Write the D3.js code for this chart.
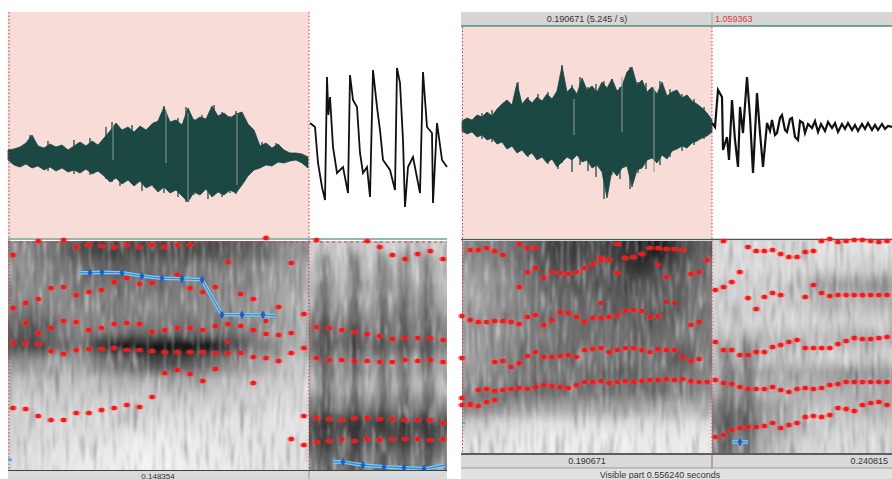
<!DOCTYPE html>
<html>
<head>
<meta charset="utf-8">
<script src="https://cdn.jsdelivr.net/npm/d3@7"></script>
<style>
  body { margin: 0; background: #fff; }
  svg { display: block; }
  text { font-family: "Liberation Sans", Arial, sans-serif; }
</style>
</head>
<body>
<div id="chart"></div>
<script>
// ---------- left panel data ----------
// waveform envelope of the selected vowel, one sample every envStepL ms
const envStepL = 3;
const waveUpL = [5,6,8,12,20,9,7,11,8,10,5,9,13,9,14,10,17,24,32,25,28,23,29,25,31,34,48,33,35,30,47,34,38,36,49,39,42,37,41,43,31,25,9,12,7,11,5,2,2,1,-2];
const waveLoL = [-5,-10,-12,-9,-13,-11,-15,-12,-16,-13,-17,-15,-18,-14,-19,-16,-21,-27,-23,-29,-25,-31,-26,-33,-30,-37,-32,-38,-35,-41,-47,-37,-40,-34,-42,-37,-40,-35,-38,-30,-21,-15,-13,-10,-11,-7,-8,-6,-5,-8,-13];
// single spikes (ms, top, bottom) and the paler ones
const spikeTL = [11,20,33,41,49,52,56,62,67,73,78,80,85,89,93,97,100,103,107,111,114,118,122,127,134];
const spikeUL = [20,14,15,17,28,33,26,30,27,33,49,35,37,48,36,40,38,50,43,39,44,34,22,13,12];
const spikeDL = [-12,-16,-19,-20,-24,-27,-31,-29,-36,-33,-38,-36,-42,-47,-40,-36,-44,-40,-42,-38,-39,-27,-16,-11,-8];
const greyTL = [52.5,79,90,114.5];
const greyUL = [30,45,42,41];
const greyDL = [-5,-8,-46,-30];
// waveform after the selection (ms, amplitude)
const burstTL = [151,153.5,155,157,158.5,159.5,160.2,161,162.5,164.5,167.5,170,171,172.5,174.5,176,177.5,179.5,181,182.5,184.5,186,187.5,191,193.5,194.5,196,197.5,198.5,200,202.5,206,207.5,209.5,212,212.5,214.5,217,219.5];
const burstAL = [32,28,-8,-32,-45,78,40,58,8,-18,-12,-38,80,55,48,2,-18,-12,-42,85,48,25,-5,-15,-35,87,72,15,-52,-12,-2,-38,83,28,22,-48,32,-5,-12];

// spectrogram darkness (rows = bands from top, cols = time)
const specAL = [
  [.55,.55,.65,.75,.8,.8,.75,.8,.75,.75,.75,.7,.7,.6,.5],
  [.5,.55,.6,.65,.65,.7,.65,.65,.65,.6,.6,.55,.55,.5,.45],
  [.5,.55,.55,.6,.6,.65,.6,.6,.6,.55,.55,.55,.5,.45,.45],
  [.6,.6,.55,.55,.55,.6,.55,.55,.6,.55,.55,.5,.5,.45,.4],
  [.7,.75,.65,.55,.55,.6,.6,.6,.65,.6,.6,.6,.55,.5,.4],
  [.75,.8,.65,.6,.85,1,1,1,1,1,.95,.75,.6,.5,.4],
  [.5,.5,.45,.45,.55,.65,.7,.75,.75,.7,.6,.5,.45,.4,.3],
  [.35,.35,.35,.35,.35,.4,.4,.4,.4,.4,.35,.35,.35,.3,.3],
  [.3,.3,.3,.3,.3,.3,.3,.3,.3,.3,.3,.3,.3,.25,.25],
  [.3,.25,.25,.25,.25,.25,.25,.2,.2,.2,.2,.2,.2,.2,.2],
  [.3,.25,.2,.2,.2,.2,.15,.15,.15,.15,.2,.2,.2,.2,.2],
  [.25,.2,.2,.15,.15,.15,.1,.1,.1,.15,.15,.15,.2,.2,.2]
];
const specBL = [
  [.3,.3,.3,.3,.3,.35,.3],
  [.35,.35,.35,.35,.35,.35,.35],
  [.4,.4,.4,.4,.4,.4,.4],
  [.45,.45,.45,.45,.45,.45,.45],
  [.6,.6,.6,.55,.55,.55,.55],
  [.65,.65,.65,.6,.6,.6,.6],
  [.5,.5,.5,.45,.45,.45,.45],
  [.4,.4,.4,.35,.35,.35,.35],
  [.55,.55,.5,.5,.5,.5,.5],
  [.75,.75,.75,.75,.75,.75,.75],
  [.75,.7,.75,.7,.75,.7,.7],
  [.6,.6,.6,.55,.55,.55,.55]
];
const pulsesL = [158.5,173.5,187.5,198,209.5];

// formant tracks, one value (Hz) per analysis frame
const framesL = 35;
const fL1 = [1488,1464,1296,1200,1200,1368,1368,1440,1488,1560,1512,1752,null,null,null,null,null,null,null,null,null,null,744,600,672,696,744,696,744,720,744,744,744,720,744];
const fL2 = [null,null,null,null,null,null,null,null,null,null,null,null,2328,2400,2304,2136,2424,null,null,2088,null,null,null,1296,1248,1224,1200,1248,1248,1224,1224,1200,1200,1200,1128];
const fL3 = [3048,3048,3024,2856,2784,2880,2904,2904,2928,2880,2880,2856,2832,2832,2832,2832,2808,2808,2808,2712,2688,2616,2808,2928,2688,2640,2640,2616,2616,2592,2592,2640,2616,2640,2592];
const fL4 = [3888,3528,3288,3408,3576,3552,3360,3408,3504,3528,3504,3312,3360,3408,3408,3360,3456,3504,3456,3360,3264,3240,3288,3744,3432,3408,3360,3312,3264,3216,3144,3168,3168,3168,3120];
const fL5 = [5160,4008,4104,4368,4392,4200,4272,4320,4512,4608,4464,4488,null,4680,4368,4272,4392,4992,4224,4104,null,3912,4968,null,null,null,null,null,null,null,null,null,null,null,null];
const fL6 = [null,null,5496,null,5520,5352,5400,5376,5352,5400,5352,5400,5352,5400,5400,null,null,null,null,null,5568,null,null,null,5520,null,null,null,5496,5352,5160,5064,5184,5256,5064];
const extraFrameL = [17,20];
const extraFreqL = [3072,3576];

// pitch (Hz) against time (ms)
const pitchTL = [36,41,47,57,67,77,87,97,107,117,127.5,133.5];
const pitchFL = [441,441,442,441,435,431,430,428,363,363,363,361];
const pitchTL2 = [162.5,167.5,177.5,188,198,208,218.5];
const pitchFL2 = [90,90,84,81,79,77,84];
const pitchTL0 = [0,2];
const pitchFL0 = [94,94];

// ---------- right panel data ----------
const envStepR = 2.5;
const waveUpR = [6,9,7,12,10,15,11,18,23,27,22,44,23,29,24,30,26,33,28,36,61,35,40,33,49,37,41,35,45,39,48,36,41,55,60,42,47,35,40,33,45,31,35,37,29,32,26,23,19,14,7];
const waveLoR = [-4,-7,-5,-10,-8,-13,-11,-17,-15,-22,-19,-26,-23,-29,-26,-33,-30,-36,-32,-40,-35,-30,-33,-28,-35,-33,-41,-38,-45,-71,-43,-49,-41,-39,-60,-43,-41,-33,-31,-36,-28,-32,-24,-22,-19,-21,-16,-14,-11,-9,-5];
const spikeTR = [10,15,22,28,33,38,43,48,50,55,59,63,67,71,75,79,84,88,92,99,104,110,116,121];
const spikeUR = [14,17,26,45,30,33,35,38,62,42,50,40,43,46,48,40,60,45,44,46,38,33,28,20];
const spikeDR = [-12,-15,-20,-25,-30,-32,-37,-42,-36,-45,-38,-44,-50,-72,-48,-52,-62,-46,-42,-38,-30,-24,-18,-12];
const greyTR = [56,80,96];
const greyUR = [28,50,40];
const greyDR = [-8,-5,-45];
const tailTR = [125,126.5,128,130,130.5,132.5,133.5,135,136.5,138,139,140.5,142.5,144,145.5,147.5,149,150.5,152.5,154,155,156.5,157.5,159,160,161.5,162.5,164,165,166.5,168,169,170.5,171.5,173,175,176.5,178,179.5,181.5,183,185,186.5,188,190,191.5,193,195,196.5,198,200,201.5,203,205,206.5,208,210,211.5,213,215];
const tailAR = [4,0,37,30,-23,-10,-33,27,-13,-40,20,-6,50,10,-46,34,-6,-40,4,-4,7,-8,-6,9,12,-3,-5,8,9,-10,-13,6,4,-6,3,-1,6,-5,3,-4,5,-1,4,-5,3,-2,4,-3,2,-4,3,-2,4,-3,2,-3,3,-2,1,0];

const specAR = [
  [.55,.6,.65,.7,.8,.8,.75,.85,.9,.9,.8,.7],
  [.5,.55,.6,.7,.75,.75,.7,.8,.85,.8,.75,.65],
  [.45,.5,.55,.65,.7,.7,.7,.75,.75,.7,.7,.6],
  [.45,.5,.55,.6,.65,.7,.65,.7,.7,.7,.7,.6],
  [.5,.55,.55,.6,.65,.65,.65,.65,.7,.7,.65,.6],
  [.5,.5,.55,.6,.6,.65,.65,.65,.65,.65,.6,.6],
  [.45,.5,.6,.65,.65,.65,.6,.65,.65,.65,.75,.6],
  [.5,.55,.6,.6,.6,.6,.65,.7,.65,.6,.65,.55],
  [.6,.65,.65,.65,.65,.65,.65,.65,.65,.65,.6,.55],
  [.55,.55,.5,.5,.45,.45,.45,.45,.45,.4,.4,.4],
  [.3,.25,.2,.2,.2,.2,.2,.2,.2,.2,.2,.2],
  [.2,.2,.15,.15,.15,.15,.15,.15,.15,.15,.15,.15]
];
const specBR = [
  [.25,.25,.25,.25,.25,.2,.2,.2,.2],
  [.25,.25,.25,.25,.25,.25,.25,.3,.3],
  [.3,.3,.3,.3,.35,.45,.5,.5,.5],
  [.3,.3,.3,.3,.35,.4,.4,.4,.4],
  [.3,.3,.25,.25,.25,.3,.3,.3,.3],
  [.35,.4,.4,.4,.35,.35,.4,.4,.4],
  [.35,.35,.35,.35,.3,.3,.3,.3,.3],
  [.4,.45,.45,.45,.45,.45,.5,.5,.5],
  [.4,.45,.4,.4,.4,.4,.4,.45,.45],
  [.55,.6,.5,.45,.4,.35,.35,.4,.4],
  [.6,.6,.5,.45,.4,.3,.3,.3,.3],
  [.55,.55,.4,.35,.3,.25,.25,.25,.25]
];
const pulsesR = [132.5,143];

const framesR = 53;
const fR1 = [1152,1152,1128,1224,1272,null,null,null,null,null,null,null,null,null,null,null,null,null,null,null,null,null,null,null,null,null,null,null,null,null,null,384,432,552,600,624,624,648,720,600,672,720,864,888,864,912,1080,1056,1008,1152,1200,1224,1152];
const fR2 = [1320,1176,1512,1536,1488,1512,1536,1560,1536,1584,1632,1608,1584,1560,1632,1704,1704,1728,1680,1704,1728,1704,1728,1752,1752,1776,1752,1776,1728,1704,1704,1752,1680,1656,1584,1536,1536,1536,1584,1512,1464,1536,1560,1536,1560,1632,1656,1704,1704,1704,1704,1704,1704];
const fR3 = [2280,null,null,null,2184,2208,2064,2160,2328,2424,2304,2304,2328,2352,2304,2472,2496,2520,2424,2472,2520,2520,2472,2424,2496,2472,2472,2304,2208,2256,null,2664,2472,2472,2352,2352,2424,2424,2544,2592,2664,2712,2520,2520,2520,2520,2616,2688,2760,2736,2736,2760,2784];
const fR4 = [3288,3192,3144,3144,3168,3168,3144,3096,3264,3312,3072,3192,3384,3360,3264,3144,3240,3240,3264,3312,3408,3432,3408,3264,3288,null,null,null,3072,3144,null,3912,3984,4104,4344,3720,3456,3744,3840,3792,null,null,3744,4032,3840,3768,3792,3792,3792,3792,3792,3792,3792];
const fR5 = [null,null,null,null,null,null,null,3984,4344,4440,4200,4344,4320,4296,4344,4440,4536,4632,null,4320,null,null,null,null,null,4224,null,null,4296,4344,4632,null,null,null,null,null,null,null,null,null,null,null,null,null,null,null,null,null,null,null,null,null,null];
const fR6 = [null,4872,4872,4920,4848,4752,null,5016,4920,4920,null,null,null,null,null,null,null,4680,4632,5016,4680,4704,4776,4920,4920,4896,4896,4872,null,null,null,null,5088,null,null,4944,4848,4848,4872,4776,4704,4704,4824,4848,5088,5136,5064,5088,5112,5112,5088,5064,5088];
const extraFrameR = [17,24,25,26];
const extraFreqR = [3600,4512,3624,3600];

const pitchTR = [135,139,143];
const pitchFR = [97,97,97];
const pitchTR0 = [0,1.5];
const pitchFR0 = [135,135];

// ---------- chart ----------
const width = 892, height = 479;
const svg = d3.select("#chart").append("svg")
  .attr("width", width)
  .attr("height", height);
const defs = svg.append("defs");

function whole(f) {
  return f.attr("filterUnits", "userSpaceOnUse")
    .attr("x", 0).attr("y", 0).attr("width", width).attr("height", height);
}
whole(defs.append("filter").attr("id", "blur"))
  .append("feGaussianBlur").attr("stdDeviation", "9 6");
whole(defs.append("filter").attr("id", "blurPulse"))
  .append("feGaussianBlur").attr("stdDeviation", "4 6");
whole(defs.append("filter").attr("id", "dotGlow"))
  .append("feGaussianBlur").attr("stdDeviation", "0.5");

// streak textures of the spectrogram
function noise(id, freq, seed, matrix) {
  let f = whole(defs.append("filter").attr("id", id));
  f.append("feTurbulence").attr("type", "fractalNoise")
    .attr("baseFrequency", freq).attr("numOctaves", 2).attr("seed", seed);
  f.append("feColorMatrix").attr("type", "matrix").attr("values", matrix);
  f.append("feGaussianBlur").attr("stdDeviation", "0.8 1.5");
  f.append("feComposite").attr("in2", "SourceGraphic").attr("operator", "in");
}
noise("whiteStreak", "0.36 0.035", 4, "0 0 0 0 1  0 0 0 0 1  0 0 0 0 1  3.4 0 0 0 -1.75");
noise("darkStreak", "0.32 0.03", 9, "0 0 0 0 0  0 0 0 0 0  0 0 0 0 0  -3.2 0 0 0 1.5");

let clipN = 0;
function clipRect(x, y, w, h) {
  let id = "clip" + (clipN++);
  defs.append("clipPath").attr("id", id)
    .append("rect").attr("x", x).attr("y", y).attr("width", w).attr("height", h);
  return `url(#${id})`;
}

// one blurred block of spectrogram
function drawSpec(g, grid, t0, t1, fMax, xScale, yScale) {
  let cols = d3.scaleBand().domain(d3.range(grid[0].length)).range([xScale(t0), xScale(t1)]);
  let rows = d3.scaleBand().domain(d3.range(grid.length)).range([yScale(fMax), yScale(0)]);
  let x0 = xScale(t0), x1 = xScale(t1), y0 = yScale(fMax), y1 = yScale(0);
  let cg = g.append("g").attr("clip-path", clipRect(x0, y0, x1 - x0, y1 - y0));
  let bg = cg.append("g").attr("filter", "url(#blur)");
  let pad = 16;
  grid.forEach((row, r) => {
    row.forEach((v, c) => {
      let x = cols(c), w = cols.bandwidth(), y = rows(r), h = rows.bandwidth();
      if (c === 0) { x -= pad; w += pad; }
      if (c === row.length - 1) { w += pad; }
      if (r === 0) { y -= pad; h += pad; }
      if (r === grid.length - 1) { h += pad; }
      bg.append("rect")
        .attr("x", x).attr("y", y).attr("width", w + 0.5).attr("height", h + 0.5)
        .attr("fill", d3.interpolateGreys(v));
    });
  });
  return cg;
}

function drawPulses(cg, pulses, fTop, xScale, yScale, op) {
  cg.append("g").attr("filter", "url(#blurPulse)")
    .selectAll("rect").data(pulses).enter().append("rect")
    .attr("x", d => xScale(d) - 4)
    .attr("y", yScale(fTop))
    .attr("width", 8)
    .attr("height", yScale(0) - yScale(fTop) + 10)
    .attr("fill", "#000")
    .attr("opacity", op);
}

function drawTexture(g, x0, y0, x1, y1) {
  g.append("rect").attr("x", x0).attr("y", y0).attr("width", x1 - x0).attr("height", y1 - y0)
    .attr("fill", "#fff").attr("filter", "url(#whiteStreak)").attr("opacity", 0.5);
  g.append("rect").attr("x", x0).attr("y", y0).attr("width", x1 - x0).attr("height", y1 - y0)
    .attr("fill", "#000").attr("filter", "url(#darkStreak)").attr("opacity", 0.28);
}

function drawTracks(g, tracks, xFrame, yFreq) {
  tracks.forEach(track => {
    let pts = track.map((f, i) => [i, f]).filter(d => d[1] !== null);
    let tg = g.append("g");
    tg.selectAll(".halo").data(pts).enter().append("ellipse")
      .attr("cx", d => xFrame(d[0])).attr("cy", d => yFreq(d[1]))
      .attr("rx", 4.2).attr("ry", 2.6)
      .attr("fill", "#ff3b3b").attr("opacity", 0.45).attr("filter", "url(#dotGlow)");
    tg.selectAll(".core").data(pts).enter().append("ellipse")
      .attr("cx", d => xFrame(d[0])).attr("cy", d => yFreq(d[1]))
      .attr("rx", 2.6).attr("ry", 2.2)
      .attr("fill", "#ff1414");
  });
}

function drawPitch(g, ts, fs, xScale, yScale, markers) {
  let pts = ts.map((t, i) => [t, fs[i]]);
  let line = d3.line().x(d => xScale(d[0])).y(d => yScale(d[1]));
  g.append("path").attr("d", line(pts)).attr("fill", "none")
    .attr("stroke", "#7ccbf2").attr("stroke-width", 3.6).attr("stroke-linejoin", "round");
  g.append("path").attr("d", line(pts)).attr("fill", "none")
    .attr("stroke", "#2f86d6").attr("stroke-width", 1.1);
  if (markers) {
    g.append("g").selectAll("path").data(pts.slice(1, -1)).enter().append("path")
      .attr("d", d3.symbol().type(d3.symbolDiamond).size(22))
      .attr("transform", d => `translate(${xScale(d[0])},${yScale(d[1])})`)
      .attr("fill", "#1d5fc4");
  }
}

function envelope(g, up, lo, step, xScale, yAmp, color) {
  let pts = up.map((u, i) => [i * step, u, lo[i]]);
  let area = d3.area().x(d => xScale(d[0])).y0(d => yAmp(d[2])).y1(d => yAmp(d[1]));
  g.append("path").attr("d", area(pts)).attr("fill", color)
    .attr("stroke", color).attr("stroke-width", 0.8);
}

function spikes(g, ts, ups, dns, xScale, yAmp, color, w) {
  g.append("g").selectAll("line").data(ts).enter().append("line")
    .attr("x1", d => xScale(d)).attr("x2", d => xScale(d))
    .attr("y1", (d, i) => yAmp(ups[i])).attr("y2", (d, i) => yAmp(dns[i]))
    .attr("stroke", color).attr("stroke-width", w);
}

function dotted(g, x, y0, y1) {
  g.append("line").attr("x1", x).attr("x2", x).attr("y1", y0).attr("y2", y1)
    .attr("stroke", "#d9363e").attr("stroke-width", 1).attr("stroke-dasharray", "1.5,2");
}

function label(g, x, y, txt, anchor, color) {
  g.append("text").attr("x", x).attr("y", y).attr("text-anchor", anchor)
    .attr("font-size", 9).attr("fill", color || "#333").text(txt);
}

// ===== left panel =====
let xTimeL = d3.scaleLinear().domain([0, 219.5]).range([8, 447]);
let xFrameL = d3.scaleLinear().domain([0, framesL - 1]).range([13, 443]);
let yAmpL = d3.scaleLinear().domain([-100, 100]).range([255, 55]);
let yFreqL = d3.scaleLinear().domain([0, 5496]).range([470, 241]);
let yPitchL = d3.scaleLinear().domain([75, 500]).range([470, 241]);
let gL = svg.append("g");

gL.append("rect").attr("x", xTimeL(0)).attr("y", 12)
  .attr("width", xTimeL(150.5) - xTimeL(0)).attr("height", 226).attr("fill", "#f7dcd8");
envelope(gL, waveUpL, waveLoL, envStepL, xTimeL, yAmpL, "#1c4843");
spikes(gL, spikeTL, spikeUL, spikeDL, xTimeL, yAmpL, "#1c4843", 1.3);
spikes(gL, greyTL, greyUL, greyDL, xTimeL, yAmpL, "#8d9c98", 1);
gL.append("path")
  .attr("d", d3.line().x(d => xTimeL(d)).y((d, i) => yAmpL(burstAL[i]))(burstTL))
  .attr("fill", "none").attr("stroke", "#111").attr("stroke-width", 1.8);

let cgLA = drawSpec(gL, specAL, 0, 150.5, 5496, xTimeL, yFreqL);
drawTexture(cgLA, xTimeL(0), 241, xTimeL(150.5), 470);
let cgLB = drawSpec(gL, specBL, 150.5, 219.5, 5496, xTimeL, yFreqL);
drawPulses(cgLB, pulsesL, 5200, xTimeL, yFreqL, 0.5);
drawTexture(cgLB, xTimeL(150.5), 241, xTimeL(219.5), 470);

gL.append("line").attr("x1", 8).attr("x2", 447).attr("y1", 239).attr("y2", 239)
  .attr("stroke", "#6aa395").attr("stroke-width", 1.5);
gL.append("line").attr("x1", 8).attr("x2", 447).attr("y1", 242).attr("y2", 242)
  .attr("stroke", "#d9363e").attr("stroke-width", 1).attr("stroke-dasharray", "3,3");
dotted(gL, 9, 12, 470);
dotted(gL, xTimeL(150.5), 12, 470);

drawTracks(gL, [fL1, fL2, fL3, fL4, fL5, fL6], xFrameL, yFreqL);
gL.selectAll(".xtraL").data(extraFrameL).enter().append("ellipse")
  .attr("cx", d => xFrameL(d)).attr("cy", (d, i) => yFreqL(extraFreqL[i]))
  .attr("rx", 2.6).attr("ry", 2.2).attr("fill", "#ff1414");
drawPitch(gL, pitchTL, pitchFL, xTimeL, yPitchL, true);
drawPitch(gL, pitchTL2, pitchFL2, xTimeL, yPitchL, true);
drawPitch(gL, pitchTL0, pitchFL0, xTimeL, yPitchL, false);

gL.append("rect").attr("x", 8).attr("y", 470).attr("width", 439).attr("height", 9).attr("fill", "#d9d9d9");
gL.append("line").attr("x1", 8).attr("x2", 447).attr("y1", 470.5).attr("y2", 470.5)
  .attr("stroke", "#444").attr("stroke-width", 1.2);
gL.append("line").attr("x1", xTimeL(150.5)).attr("x2", xTimeL(150.5)).attr("y1", 471).attr("y2", 479)
  .attr("stroke", "#999");
gL.append("text").attr("x", xTimeL(75)).attr("y", 478.5).attr("text-anchor", "middle")
  .attr("font-size", 8).attr("fill", "#333").text("0.148354");

// ===== right panel =====
let xTimeR = d3.scaleLinear().domain([0, 215]).range([462, 892]);
let xFrameR = d3.scaleLinear().domain([0, framesR - 1]).range([462, 887]);
let yAmpR = d3.scaleLinear().domain([-100, 100]).range([227, 27]);
let yFreqR = d3.scaleLinear().domain([0, 5088]).range([453, 241]);
let yPitchR = d3.scaleLinear().domain([75, 500]).range([453, 241]);
let gR = svg.append("g");

gR.append("rect").attr("x", 461).attr("y", 12).attr("width", 431).attr("height", 14).attr("fill", "#d6d6d6");
gR.append("line").attr("x1", 461).attr("x2", 892).attr("y1", 26).attr("y2", 26)
  .attr("stroke", "#4f8a7a").attr("stroke-width", 1.4);
gR.append("line").attr("x1", xTimeR(125)).attr("x2", xTimeR(125)).attr("y1", 12).attr("y2", 26)
  .attr("stroke", "#aaa");
label(gR, (xTimeR(0) + xTimeR(125)) / 2, 22, "0.190671 (5.245 / s)", "middle");
label(gR, xTimeR(125) + 3, 22, "1.059363", "start", "#e0393b");

gR.append("rect").attr("x", xTimeR(0)).attr("y", 27)
  .attr("width", xTimeR(125) - xTimeR(0)).attr("height", 211).attr("fill", "#f7dcd8");
envelope(gR, waveUpR, waveLoR, envStepR, xTimeR, yAmpR, "#1c4843");
spikes(gR, spikeTR, spikeUR, spikeDR, xTimeR, yAmpR, "#1c4843", 1.3);
spikes(gR, greyTR, greyUR, greyDR, xTimeR, yAmpR, "#8d9c98", 1);
gR.append("path")
  .attr("d", d3.line().x(d => xTimeR(d)).y((d, i) => yAmpR(tailAR[i]))(tailTR))
  .attr("fill", "none").attr("stroke", "#111").attr("stroke-width", 2.2);

let cgRA = drawSpec(gR, specAR, 0, 125, 5088, xTimeR, yFreqR);
drawTexture(cgRA, xTimeR(0), 241, xTimeR(125), 453);
let cgRB = drawSpec(gR, specBR, 125, 215, 5088, xTimeR, yFreqR);
drawPulses(cgRB, pulsesR, 2600, xTimeR, yFreqR, 0.45);
drawTexture(cgRB, xTimeR(125), 241, xTimeR(215), 453);

gR.append("line").attr("x1", 461).attr("x2", 892).attr("y1", 239.5).attr("y2", 239.5)
  .attr("stroke", "#3d5f57").attr("stroke-width", 1.6);
dotted(gR, 462.5, 27, 453);
dotted(gR, xTimeR(125), 27, 453);

drawTracks(gR, [fR1, fR2, fR3, fR4, fR5, fR6], xFrameR, yFreqR);
gR.selectAll(".xtraR").data(extraFrameR).enter().append("ellipse")
  .attr("cx", d => xFrameR(d)).attr("cy", (d, i) => yFreqR(extraFreqR[i]))
  .attr("rx", 2.6).attr("ry", 2.2).attr("fill", "#ff1414");
drawPitch(gR, pitchTR, pitchFR, xTimeR, yPitchR, true);
drawPitch(gR, pitchTR0, pitchFR0, xTimeR, yPitchR, false);

gR.append("rect").attr("x", 461).attr("y", 453).attr("width", 431).attr("height", 15).attr("fill", "#d9d9d9");
gR.append("rect").attr("x", 461).attr("y", 468).attr("width", 431).attr("height", 11).attr("fill", "#e2e2e2");
gR.append("line").attr("x1", 461).attr("x2", 892).attr("y1", 454).attr("y2", 454)
  .attr("stroke", "#333").attr("stroke-width", 1.6);
gR.append("line").attr("x1", 461).attr("x2", 892).attr("y1", 468).attr("y2", 468)
  .attr("stroke", "#9a9a9a").attr("stroke-width", 1);
gR.append("line").attr("x1", xTimeR(125)).attr("x2", xTimeR(125)).attr("y1", 454).attr("y2", 468)
  .attr("stroke", "#8a6a6a");
label(gR, (xTimeR(0) + xTimeR(125)) / 2, 464, "0.190671", "middle");
label(gR, 888, 464, "0.240815", "end");
label(gR, 660, 478, "Visible part 0.556240 seconds", "middle");
</script>
</body>
</html>
